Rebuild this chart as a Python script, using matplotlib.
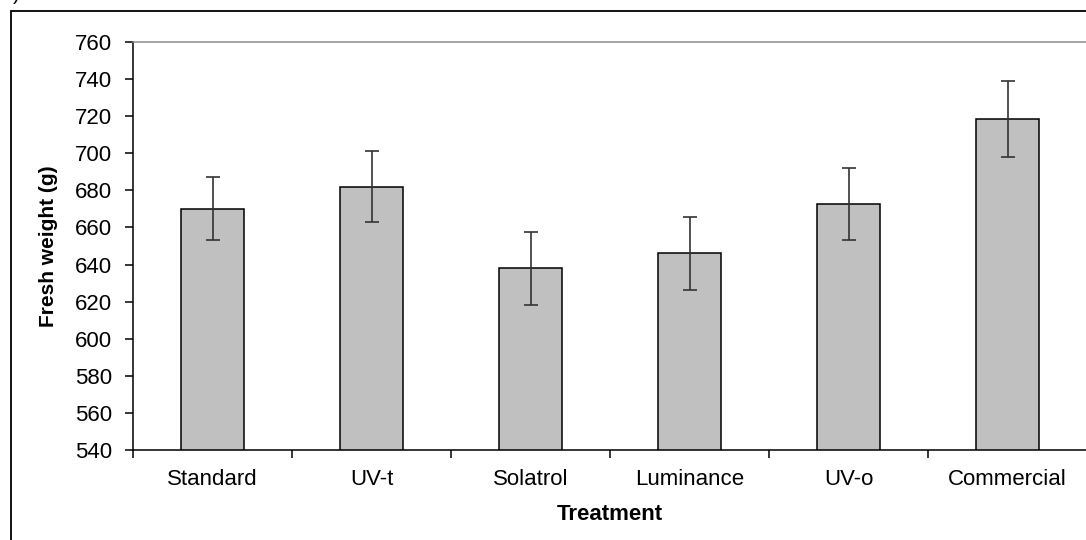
import matplotlib
matplotlib.use("Agg")
import matplotlib.pyplot as plt
from matplotlib.patches import Rectangle
import numpy as np

treatments = ['Standard', 'UV-t', 'Solatrol', 'Luminance', 'UV-o', 'Commercial']
fresh_weight = [670, 682, 638, 646, 672.5, 718.5]
error = [17, 19, 19.7, 19.7, 19.4, 20.4]
y_ticks = list(range(540, 761, 20))

plt.rcParams['font.family'] = ['Liberation Sans', 'DejaVu Sans']

def main():
    fig = plt.figure(figsize=(10.86, 5.40), dpi=100)
    ax = fig.add_axes([133 / 1086, 1 - 450 / 540, 954 / 1086, 408 / 540])

    x = np.arange(len(treatments))
    ax.bar(x, fresh_weight, width=0.4, color='#c0c0c0', edgecolor='black',
           linewidth=1.1, zorder=2)
    ax.errorbar(x, fresh_weight, yerr=error, fmt='none', ecolor='#333333',
                elinewidth=1.2, capsize=5, capthick=1.2, zorder=3)

    ax.set_xlim(-0.5, len(treatments) - 0.5)
    ax.set_ylim(540, 760)
    ax.set_yticks(y_ticks)

    # category labels centred, tick marks between categories
    ax.set_xticks(x)
    ax.set_xticklabels(treatments, fontsize=16)
    ax.set_xticks(np.arange(-0.5, len(treatments)), minor=True)
    ax.tick_params(axis='x', which='major', length=0, pad=14)
    ax.tick_params(axis='x', which='minor', length=6, width=1.1, direction='out')
    ax.tick_params(axis='y', length=6, width=1.1, direction='out', pad=9, labelsize=16)

    ax.spines['right'].set_visible(False)
    ax.spines['top'].set_color('#8c8c8c')
    ax.spines['top'].set_linewidth(1.1)
    ax.spines['left'].set_linewidth(1.1)
    ax.spines['bottom'].set_linewidth(1.1)

    ax.set_xlabel('Treatment', fontsize=16, fontweight='bold', labelpad=10)
    ax.set_ylabel('Fresh weight (g)', fontsize=15, fontweight='bold', labelpad=12)

    # outer chart frame (cut off at right and bottom)
    fig.patches.append(Rectangle((11 / 1086, -0.2), 1.3, 1.2 - 11 / 540,
                                 transform=fig.transFigure, fill=False,
                                 edgecolor='black', linewidth=1.3))
    fig.text(13 / 1086, 1.0, ')', fontsize=15, ha='left', va='baseline')

    fig.savefig('out.png', dpi=100)

if __name__ == "__main__":
    main()
